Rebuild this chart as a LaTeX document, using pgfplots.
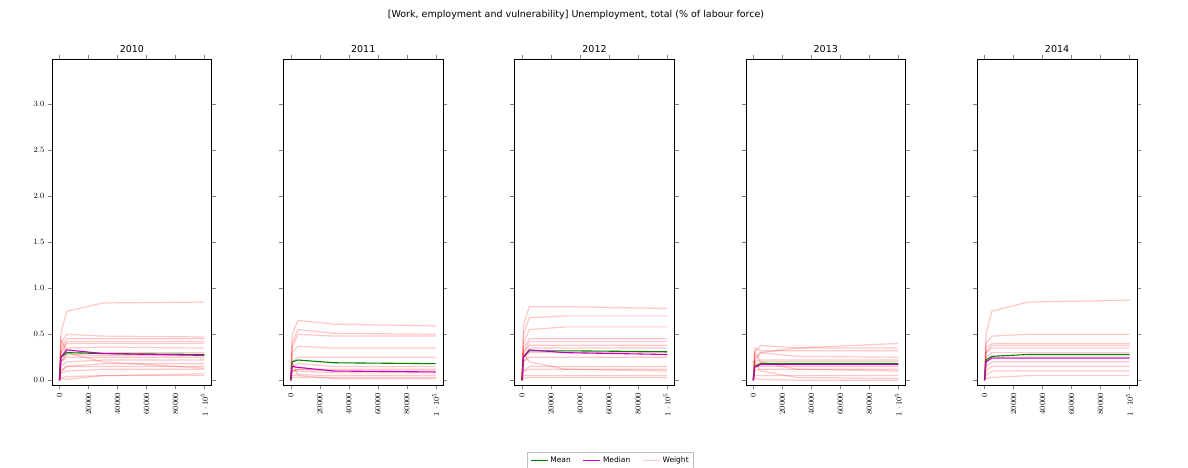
\documentclass[border=0pt]{standalone}
\usepackage{pgfplots}
\pgfplotsset{compat=1.18}
\usepackage{fontspec}
\setmainfont{DejaVu Sans}
\definecolor{mgreen}{rgb}{0,0.5,0}
\definecolor{mmag}{rgb}{0.75,0,0.75}
\newcommand{\W}[4]{\addplot[red,opacity=0.22,line width=1.2pt] coordinates {(0,0)(1000,#1)(5000,#2)(30000,#3)(100000,#4)};}
\newcommand{\MM}[8]{%
\addplot[mgreen,line width=1.1pt] coordinates {(0,0)(1000,#1)(5000,#2)(30000,#3)(100000,#4)};
\addplot[mmag,line width=1.1pt] coordinates {(0,0)(1000,#5)(5000,#6)(30000,#7)(100000,#8)};}
\pgfplotsset{panel/.style={scale only axis,width=159.5pt,height=326pt,anchor=south west,
 xmin=-5000,xmax=105000,ymin=-0.054,ymax=3.49,
 xtick={0,20000,40000,60000,80000,100000},scaled x ticks=false,
 xticklabel style={rotate=90,anchor=east,font=\fontsize{8}{9}\selectfont,/pgf/number format/1000 sep={}},
 yticklabel style={font=\fontsize{8}{9}\selectfont,/pgf/number format/.cd,fixed,fixed zerofill,precision=1},
 ytick={0,0.5,1,1.5,2,2.5,3},
 tick align=outside, axis line style={line width=0.6pt},
 title style={font=\fontsize{9.5}{11}\selectfont,yshift=-3pt},
 every axis plot/.append style={mark=none}}}
\begin{document}
\begin{tikzpicture}[x=1pt,y=1pt]
\path[use as bounding box] (0,0) rectangle (1188,468);
\node at (576,453) {\fontsize{9.5}{11}\selectfont [Work, employment and vulnerability] Unemployment, total (\% of labour force)};
% 2010
\begin{axis}[panel,at={(36,90)},title={2010},
 legend style={at={(3.5,-0.23)},anchor=center,legend columns=3,font=\fontsize{7.5}{9}\selectfont,draw=gray!50,/tikz/every even column/.append style={column sep=10pt}}]
\addlegendimage{mgreen,line width=1.1pt}\addlegendentry{Mean}
\addlegendimage{mmag,line width=1.1pt}\addlegendentry{Median}
\addlegendimage{red,opacity=0.22,line width=1.2pt}\addlegendentry{Weight}
\W{0.5}{0.75}{0.84}{0.85}\W{0.4}{0.5}{0.48}{0.47}\W{0.35}{0.45}{0.45}{0.45}\W{0.3}{0.42}{0.42}{0.42}
\W{0.3}{0.4}{0.4}{0.40}\W{0.25}{0.35}{0.36}{0.35}\W{0.2}{0.3}{0.3}{0.30}\W{0.2}{0.28}{0.27}{0.27}
\W{0.2}{0.25}{0.25}{0.25}\W{0.15}{0.2}{0.22}{0.22}\W{0.1}{0.15}{0.18}{0.18}\W{0.1}{0.15}{0.15}{0.15}
\W{0.08}{0.1}{0.12}{0.12}\W{0.02}{0.01}{0.05}{0.07}\W{0.03}{0.04}{0.05}{0.05}\W{0.45}{0.3}{0.2}{0.13}
\MM{0.25}{0.3}{0.29}{0.28}{0.25}{0.33}{0.29}{0.27}
\end{axis}
% 2011
\begin{axis}[panel,at={(195.5,90)},title={2011},yticklabels={}]
\W{0.5}{0.65}{0.61}{0.59}\W{0.4}{0.55}{0.51}{0.50}\W{0.35}{0.5}{0.48}{0.48}\W{0.3}{0.37}{0.35}{0.35}
\W{0.2}{0.25}{0.25}{0.25}\W{0.15}{0.18}{0.15}{0.15}\W{0.1}{0.12}{0.1}{0.10}\W{0.1}{0.1}{0.08}{0.08}
\W{0.05}{0.06}{0.05}{0.05}\W{0.03}{0.03}{0.03}{0.03}\W{0.2}{0.05}{0.02}{0.02}\W{0.1}{0.12}{0.12}{0.12}
\MM{0.2}{0.22}{0.19}{0.18}{0.15}{0.14}{0.1}{0.09}
\end{axis}
% 2012
\begin{axis}[panel,at={(355,90)},title={2012},yticklabels={}]
\W{0.6}{0.8}{0.8}{0.78}\W{0.5}{0.68}{0.7}{0.70}\W{0.4}{0.55}{0.58}{0.58}\W{0.35}{0.45}{0.45}{0.45}
\W{0.3}{0.42}{0.42}{0.42}\W{0.3}{0.38}{0.38}{0.38}\W{0.25}{0.35}{0.35}{0.35}\W{0.2}{0.3}{0.3}{0.30}
\W{0.2}{0.25}{0.25}{0.25}\W{0.1}{0.15}{0.15}{0.15}\W{0.1}{0.12}{0.12}{0.12}\W{0.3}{0.2}{0.12}{0.10}
\W{0.05}{0.05}{0.05}{0.05}\W{0.02}{0.03}{0.03}{0.03}
\MM{0.25}{0.32}{0.32}{0.31}{0.25}{0.33}{0.3}{0.28}
\end{axis}
% 2013
\begin{axis}[panel,at={(514.5,90)},title={2013},yticklabels={}]
\W{0.2}{0.3}{0.35}{0.40}\W{0.3}{0.38}{0.35}{0.35}\W{0.35}{0.32}{0.32}{0.32}\W{0.25}{0.3}{0.26}{0.25}
\W{0.2}{0.22}{0.22}{0.22}\W{0.15}{0.2}{0.2}{0.20}\W{0.15}{0.15}{0.15}{0.15}\W{0.1}{0.12}{0.12}{0.12}
\W{0.3}{0.2}{0.12}{0.10}\W{0.05}{0.05}{0.05}{0.05}\W{0.2}{0.1}{0.03}{0.02}\W{0.02}{0.01}{0.0}{0.0}
\MM{0.15}{0.18}{0.18}{0.18}{0.14}{0.17}{0.17}{0.17}
\end{axis}
% 2014
\begin{axis}[panel,at={(674,90)},title={2014},yticklabels={}]
\W{0.5}{0.75}{0.85}{0.87}\W{0.4}{0.48}{0.5}{0.50}\W{0.35}{0.4}{0.4}{0.40}\W{0.3}{0.38}{0.38}{0.38}
\W{0.3}{0.35}{0.35}{0.35}\W{0.25}{0.3}{0.3}{0.30}\W{0.2}{0.25}{0.25}{0.25}\W{0.15}{0.2}{0.2}{0.20}
\W{0.1}{0.15}{0.15}{0.15}\W{0.05}{0.1}{0.1}{0.10}\W{0.02}{0.03}{0.05}{0.05}
\MM{0.22}{0.26}{0.28}{0.28}{0.2}{0.24}{0.24}{0.24}
\end{axis}
% 2015
\begin{axis}[panel,at={(833.5,90)},title={2015},yticklabels={}]
\W{0.5}{0.62}{0.62}{0.62}\W{0.3}{0.5}{0.58}{0.60}\W{0.2}{0.35}{0.5}{0.55}\W{0.3}{0.4}{0.43}{0.45}
\W{0.3}{0.38}{0.38}{0.38}\W{0.2}{0.3}{0.3}{0.30}\W{0.15}{0.2}{0.2}{0.20}\W{0.1}{0.15}{0.15}{0.15}
\W{0.4}{0.2}{0.12}{0.10}\W{0.05}{0.05}{0.05}{0.05}\W{0.2}{0.05}{0.02}{0.02}
\MM{0.2}{0.22}{0.25}{0.26}{0.08}{0.12}{0.17}{0.19}
\end{axis}
% 2016
\begin{axis}[panel,at={(993,90)},title={2016},yticklabels={}]
\W{0.6}{0.8}{0.95}{1.04}\W{0.5}{0.7}{0.8}{0.83}\W{0.4}{0.55}{0.6}{0.60}\W{0.4}{0.5}{0.55}{0.55}
\W{0.3}{0.45}{0.5}{0.50}\W{0.4}{0.45}{0.45}{0.45}\W{0.3}{0.38}{0.38}{0.38}\W{0.2}{0.3}{0.35}{0.35}
\W{0.3}{0.3}{0.3}{0.30}\W{0.1}{0.15}{0.2}{0.20}\W{0.1}{0.05}{0.03}{0.05}\W{0.5}{0.4}{0.15}{0.02}
\MM{0.3}{0.35}{0.33}{0.32}{0.3}{0.38}{0.35}{0.30}
\end{axis}
\end{tikzpicture}
\end{document}
